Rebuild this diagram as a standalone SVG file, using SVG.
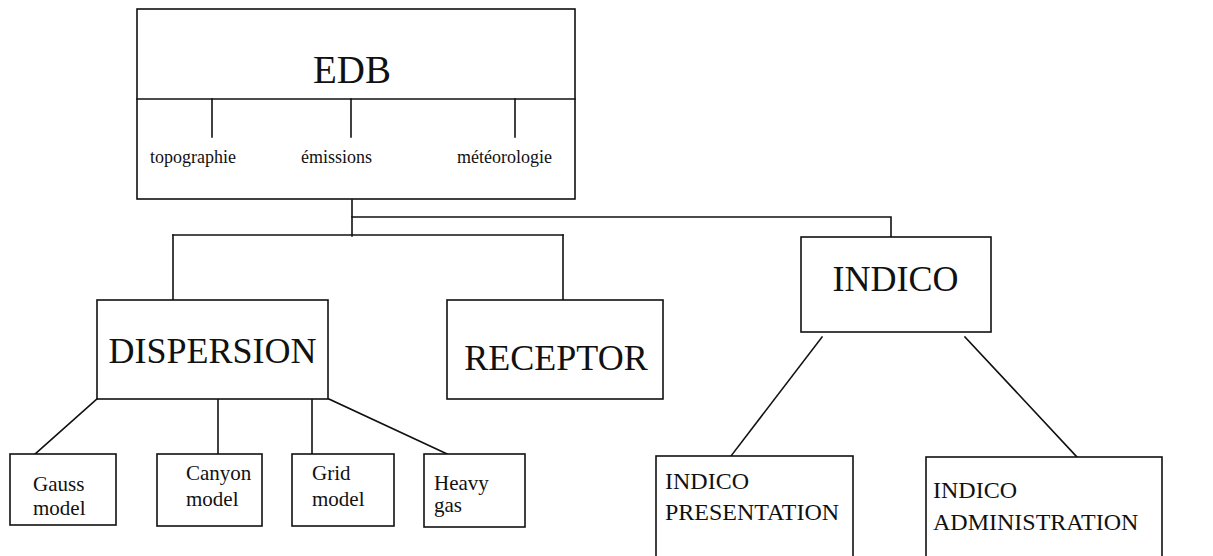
<svg xmlns="http://www.w3.org/2000/svg" width="1213" height="556" viewBox="0 0 1213 556">
  <style>
    .box { fill: #fff; stroke: #111; stroke-width: 1.6; }
    .wire { fill: none; stroke: #111; stroke-width: 1.6; stroke-linecap: square; }
    text { font-family: "Liberation Serif", "Times New Roman", serif; fill: #111; }
    .big { font-size: 36px; }
    .mid { font-size: 24px; }
    .small { font-size: 21px; }
    .sub { font-size: 18px; }
  </style>
  <rect width="1213" height="556" fill="#fff"/>

  <!-- connectors -->
  <g id="connectors" class="wire">
    <!-- EDB trunk -->
    <path d="M352 200 V236"/>
    <path d="M352 217 H891 V237"/>
    <path d="M173 235 H563"/>
    <path d="M173 235 V300"/>
    <path d="M563 235 V300"/>
    <!-- DISPERSION to models -->
    <path d="M97 399 L35 454"/>
    <path d="M218 399 V454"/>
    <path d="M312 399 V454"/>
    <path d="M329 399 L447 454"/>
    <!-- INDICO to sub-modules -->
    <path d="M822 337 L731 456"/>
    <path d="M965 337 L1077 457"/>
  </g>

  <!-- EDB -->
  <g id="edb">
    <rect class="box" x="137" y="9" width="438" height="190"/>
    <line class="wire" x1="137" y1="99" x2="575" y2="99"/>
    <line class="wire" x1="212" y1="99" x2="212" y2="137"/>
    <line class="wire" x1="351" y1="99" x2="351" y2="137"/>
    <line class="wire" x1="515" y1="99" x2="515" y2="137"/>
    <text x="352" y="83" font-size="39" text-anchor="middle">EDB</text>
    <text class="sub" x="150" y="163">topographie</text>
    <text class="sub" x="301" y="163">émissions</text>
    <text class="sub" x="457" y="163">météorologie</text>
  </g>

  <!-- DISPERSION -->
  <g id="dispersion">
    <rect class="box" x="97" y="300" width="231" height="99"/>
    <text class="big" x="212.5" y="363" text-anchor="middle">DISPERSION</text>
  </g>

  <!-- RECEPTOR -->
  <g id="receptor">
    <rect class="box" x="447" y="300" width="216" height="99"/>
    <text class="big" x="556" y="370" text-anchor="middle">RECEPTOR</text>
  </g>

  <!-- INDICO -->
  <g id="indico">
    <rect class="box" x="801" y="237" width="190" height="95"/>
    <text class="big" x="895.5" y="291" text-anchor="middle">INDICO</text>
  </g>

  <!-- dispersion models -->
  <g id="gauss">
    <rect class="box" x="10" y="454" width="106" height="71"/>
    <text class="small" x="33" y="491">Gauss</text>
    <text class="small" x="33" y="515">model</text>
  </g>
  <g id="canyon">
    <rect class="box" x="157" y="454" width="105" height="72"/>
    <text class="small" x="186" y="480">Canyon</text>
    <text class="small" x="186" y="506">model</text>
  </g>
  <g id="grid">
    <rect class="box" x="292" y="454" width="102" height="72"/>
    <text class="small" x="312" y="480">Grid</text>
    <text class="small" x="312" y="506">model</text>
  </g>
  <g id="heavy">
    <rect class="box" x="424" y="454" width="101" height="73"/>
    <text class="small" x="434" y="490">Heavy</text>
    <text class="small" x="434" y="512">gas</text>
  </g>

  <!-- INDICO sub-modules (boxes run past the lower edge) -->
  <g id="indico-presentation">
    <rect class="box" x="656" y="456" width="197" height="130"/>
    <text class="mid" x="665" y="489">INDICO</text>
    <text class="mid" x="665" y="520">PRESENTATION</text>
  </g>
  <g id="indico-administration">
    <rect class="box" x="926" y="457" width="236" height="130"/>
    <text class="mid" x="933" y="498">INDICO</text>
    <text class="mid" x="933" y="530">ADMINISTRATION</text>
  </g>
</svg>
